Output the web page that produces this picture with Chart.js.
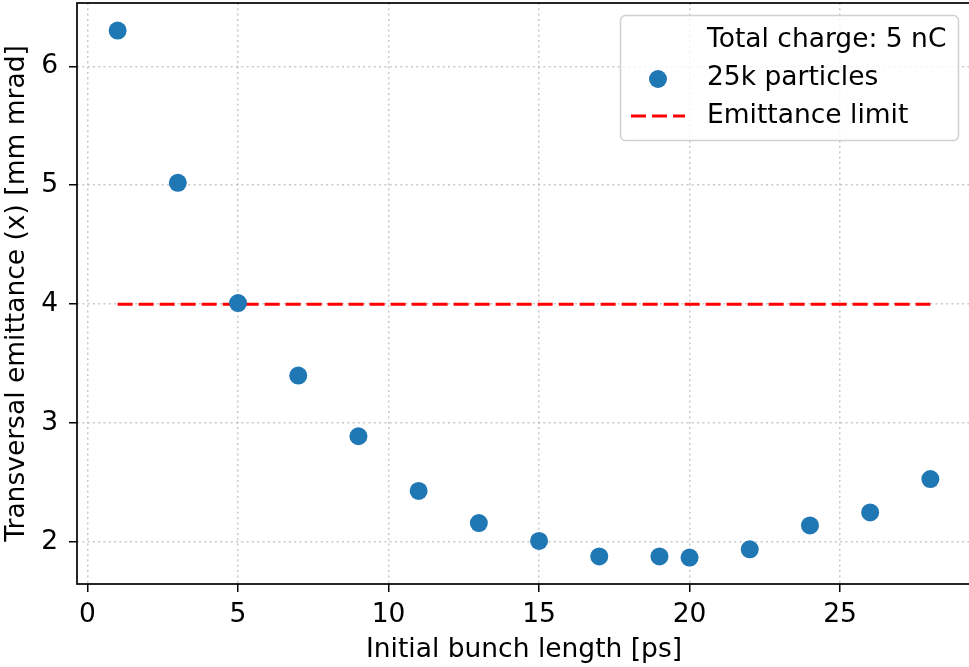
<!DOCTYPE html>
<html>
<head>
<meta charset="utf-8">
<script src="https://cdn.jsdelivr.net/npm/chart.js@4"></script>
<style>
  html, body { margin: 0; padding: 0; background: #fff; overflow: hidden; }
  #wrap { width: 969px; height: 667px; overflow: hidden; }
</style>
</head>
<body>
<div id="wrap"><canvas id="emitChart" width="971" height="667"></canvas></div>
<script>
// bunch length [ps] and transversal emittance [mm mrad]
const bunchLengths = [1, 3, 5, 7, 9, 11, 13, 15, 17, 19, 20, 22, 24, 26, 28];
const emittances = [6.30, 5.02, 4.01, 3.40, 2.89, 2.43, 2.16, 2.01, 1.88, 1.88, 1.87, 1.94, 2.14, 2.25, 2.53];

const limitX = [1, 28];
const limitY = [4, 4];

const xLimits = [-0.35, 29.35];
const yLimits = [1.648, 6.532];
const xTicks = [0, 5, 10, 15, 20, 25];
const yTicks = [2, 3, 4, 5, 6];

const legendLabels = ['Total charge: 5 nC', '25k particles', 'Emittance limit'];

const FONT = "'DejaVu Sans', sans-serif";
const FSIZE = 26.5;

let pointData = bunchLengths.map(function(x, i) { return {x: x, y: emittances[i]}; });
let limitData = limitX.map(function(x, i) { return {x: x, y: limitY[i]}; });

// frame around plot + legend box inside the axes
const framePlugin = {
    id: 'frame',
    afterDraw: function(chart) {
        let ctx = chart.ctx;
        let a = chart.chartArea;
        ctx.save();
        ctx.strokeStyle = '#000';
        ctx.lineWidth = 1.7;
        ctx.strokeRect(a.left, a.top, a.right - a.left, a.bottom - a.top);

        // legend
        let bx = 620.5, by = 15.5, bw = 338, bh = 125, r = 5;
        ctx.beginPath();
        ctx.moveTo(bx + r, by);
        ctx.arcTo(bx + bw, by, bx + bw, by + bh, r);
        ctx.arcTo(bx + bw, by + bh, bx, by + bh, r);
        ctx.arcTo(bx, by + bh, bx, by, r);
        ctx.arcTo(bx, by, bx + bw, by, r);
        ctx.closePath();
        ctx.fillStyle = 'rgba(255,255,255,0.8)';
        ctx.fill();
        ctx.strokeStyle = '#d0d0d0';
        ctx.lineWidth = 1.5;
        ctx.stroke();

        ctx.fillStyle = '#000';
        ctx.font = FSIZE + 'px ' + FONT;
        ctx.textBaseline = 'middle';
        ctx.textAlign = 'left';
        let rows = [40, 78, 116];
        legendLabels.forEach(function(t, i) { ctx.fillText(t, 707, rows[i]); });

        let ds1 = chart.data.datasets[1];
        ctx.beginPath();
        ctx.arc(658, rows[1] + 1, 9, 0, Math.PI * 2);
        ctx.fillStyle = ds1.backgroundColor;
        ctx.fill();

        let ds2 = chart.data.datasets[2];
        ctx.beginPath();
        ctx.setLineDash(ds2.borderDash);
        ctx.strokeStyle = ds2.borderColor;
        ctx.lineWidth = ds2.borderWidth;
        ctx.moveTo(631, rows[2]);
        ctx.lineTo(685, rows[2]);
        ctx.stroke();
        ctx.restore();
    }
};

let ctx = document.getElementById('emitChart').getContext('2d');
let emitChart = new Chart(ctx, {
    type: 'scatter',
    data: {
        datasets: [{
            label: legendLabels[0],
            data: [],
            pointRadius: 0
        }, {
            label: legendLabels[1],
            data: pointData,
            backgroundColor: '#1f77b4',
            borderWidth: 0,
            pointRadius: 9,
            pointHoverRadius: 9,
            order: 0
        }, {
            type: 'line',
            label: legendLabels[2],
            data: limitData,
            borderColor: '#ff0000',
            borderWidth: 3,
            borderDash: [15, 6],
            pointRadius: 0,
            fill: false,
            order: 1
        }]
    },
    options: {
        responsive: false,
        animation: false,
        devicePixelRatio: 1,
        layout: { autoPadding: false, padding: { top: 3, right: 0, left: 0, bottom: 0 } },
        plugins: {
            legend: { display: false },
            tooltip: { enabled: false }
        },
        scales: {
            x: {
                type: 'linear',
                min: xLimits[0],
                max: xLimits[1],
                afterFit: function(s) { s.height = 83; s.paddingLeft = 0; s.paddingRight = 0; },
                afterBuildTicks: function(s) { s.ticks = xTicks.map(function(v) { return {value: v}; }); },
                ticks: { font: { family: FONT, size: FSIZE }, color: '#000', padding: 7, maxRotation: 0 },
                grid: {
                    color: 'rgba(176,176,176,0.7)', lineWidth: 1.5,
                    tickColor: '#000', tickBorderDash: [], tickLength: 8, tickWidth: 1.5
                },
                border: { display: false, dash: [2, 3.3] },
                title: { display: true, text: 'Initial bunch length [ps]', font: { family: FONT, size: FSIZE }, color: '#000', padding: { top: 2, bottom: 1 } }
            },
            y: {
                type: 'linear',
                min: yLimits[0],
                max: yLimits[1],
                afterFit: function(s) { s.width = 77; s.paddingTop = 0; s.paddingBottom = 0; },
                afterBuildTicks: function(s) { s.ticks = yTicks.map(function(v) { return {value: v}; }); },
                ticks: { font: { family: FONT, size: FSIZE }, color: '#000', padding: 11 },
                grid: {
                    color: 'rgba(176,176,176,0.7)', lineWidth: 1.5,
                    tickColor: '#000', tickBorderDash: [], tickLength: 8, tickWidth: 1.5
                },
                border: { display: false, dash: [2, 3.3] },
                title: { display: true, text: 'Transversal emittance (x) [mm mrad]', font: { family: FONT, size: FSIZE }, color: '#000', padding: { top: 1, bottom: 2 } }
            }
        }
    },
    plugins: [framePlugin]
});
</script>
</body>
</html>
